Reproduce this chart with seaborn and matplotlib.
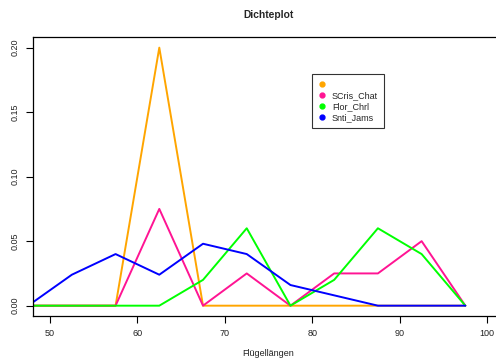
import numpy as np
import pandas as pd
import matplotlib
matplotlib.use("Agg")
import matplotlib.pyplot as plt
from matplotlib.lines import Line2D
import seaborn as sns

# Bin midpoints (wing length, 5-unit bins) and density per group
mids = [47.5, 52.5, 57.5, 62.5, 67.5, 72.5, 77.5, 82.5, 87.5, 92.5, 97.5]
grp_first = [0, 0, 0, 0.2, 0, 0, 0, 0, 0, 0, 0]
scris_chat = [0, 0, 0, 0.075, 0, 0.025, 0, 0.025, 0.025, 0.05, 0]
flor_chrl = [0, 0, 0, 0, 0.02, 0.06, 0, 0.02, 0.06, 0.04, 0]
snti_jams = [0, 0.024, 0.04, 0.024, 0.048, 0.04, 0.016, 0.008, 0, 0, 0]

groups = ["", "SCris_Chat", "Flor_Chrl", "Snti_Jams"]
colors = ["#FFA500", "#FF1493", "#00FF00", "#0000FF"]
series = [grp_first, scris_chat, flor_chrl, snti_jams]

x_ticks = [50, 60, 70, 80, 90, 100]
y_ticks = [0.00, 0.05, 0.10, 0.15, 0.20]

frames = []
for name, vals in zip(groups, series):
    frames.append(pd.DataFrame({"mid": mids, "dens": vals, "grp": name if name else "other"}))
df = pd.concat(frames, ignore_index=True)
hue_order = [g if g else "other" for g in groups]

sns.set_style("white")
plt.rcParams["font.family"] = ["Liberation Sans", "DejaVu Sans"]

fig = plt.figure(figsize=(4.96, 3.60), dpi=100)
ax = fig.add_axes([32.5 / 496, 44 / 360, (504.7 - 32.5) / 496, (322.7 - 44) / 360])

sns.lineplot(data=df, x="mid", y="dens", hue="grp", hue_order=hue_order,
             palette=colors, linewidth=1.4, legend=False, ax=ax, sort=False)

ax.set_xlim(48, 102)
ax.set_ylim(-0.008, 0.208)
ax.set_xticks(x_ticks)
ax.set_xticklabels([str(t) for t in x_ticks])
ax.set_yticks(y_ticks)
ax.set_yticklabels([f"{t:.2f}" for t in y_ticks], rotation=90, va="center")
ax.tick_params(axis="both", direction="out", length=5, width=0.8, color="black",
               labelsize=6.5, labelcolor="#222222", left=True, bottom=True, pad=4)
for side in ["left", "top", "bottom"]:
    ax.spines[side].set_visible(True)
    ax.spines[side].set_color("black")
    ax.spines[side].set_linewidth(0.9)
ax.spines["right"].set_visible(False)

ax.set_xlabel("Flügellängen", fontsize=6.5, color="#222222", labelpad=8)
ax.set_ylabel("")
fig.text(268 / 496, 1 - 15 / 360, "Dichteplot", ha="center", va="center",
         fontsize=7.4, fontweight="bold")

handles = [Line2D([0], [0], marker="o", linestyle="none", markersize=3.5,
                  markerfacecolor=c, markeredgecolor=c) for c in colors]
leg = ax.legend(handles, groups, loc="upper left",
                bbox_to_anchor=((312 - 32.5) / (504.7 - 32.5), 1 - (74 - 37.3) / (315.9 - 37.3)),
                fontsize=6.5, frameon=True, fancybox=False, borderpad=0.7,
                handlelength=0.9, handletextpad=0.6, labelspacing=0.2,
                borderaxespad=0)
leg.get_frame().set_edgecolor("black")
leg.get_frame().set_linewidth(0.8)

fig.savefig("out.png", dpi=100)
